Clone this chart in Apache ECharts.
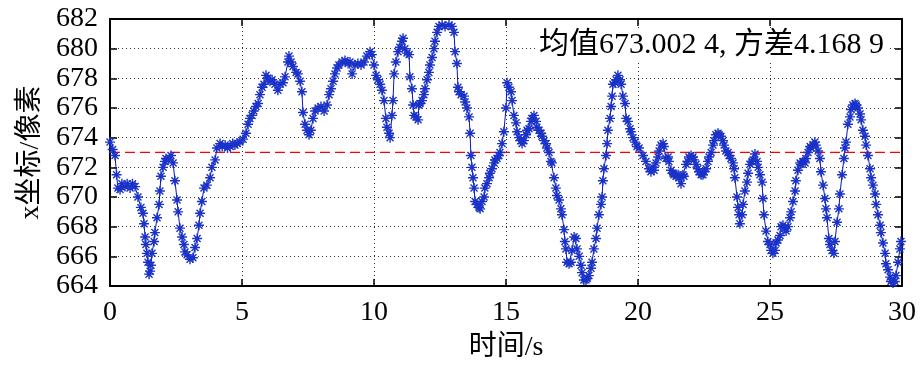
<!DOCTYPE html>
<html>
<head>
<meta charset="utf-8">
<script src="https://cdn.jsdelivr.net/npm/echarts@6/dist/echarts.min.js"></script>
<style>html,body{margin:0;padding:0;background:#fff;}#c{width:921px;height:371px;}</style>
</head>
<body>
<div id="c"></div>
<script>
const xTicks = [0, 5, 10, 15, 20, 25, 30];
const yTicks = [664, 666, 668, 670, 672, 674, 676, 678, 680, 682];
const meanValue = 673.0024;
const statText = '均值673.002 4, 方差4.168 9';
const xName = '时间/s';
const yName = 'x坐标/像素';

const times = [
0.00,0.10,0.19,0.25,0.30,0.38,0.45,0.57,0.65,0.76,0.85,0.95,1.06,1.17,1.25,1.29,1.33,1.36,1.40,1.44,1.48,1.52,1.55,1.59,1.67,1.70,1.78,1.86,1.89,1.93,2.01,2.08,2.12,2.20,2.31,2.39,2.46,2.54,2.58,2.65,2.73,2.80,2.84,2.92,3.03,3.14,3.22,3.30,3.37,3.41,3.48,3.56,3.67,3.79,3.86,3.98,4.05,4.17,4.25,4.36,4.45,4.55,4.65,4.73,4.82,4.92,5.04,
5.15,5.23,5.30,5.38,5.45,5.53,5.61,5.68,5.76,5.83,5.91,5.98,6.06,6.14,6.25,6.36,6.44,6.55,6.63,6.74,6.78,6.86,6.93,7.05,7.12,7.20,7.27,7.31,7.39,7.46,7.54,7.61,7.69,7.77,7.88,7.99,8.11,8.22,8.30,8.37,8.45,8.52,8.60,8.67,8.79,8.90,9.02,9.09,9.17,9.28,9.39,9.51,9.62,9.73,9.85,9.92,
10.00,10.08,10.15,10.23,10.30,10.38,10.45,10.49,10.57,10.61,10.68,10.72,10.76,10.83,10.91,10.98,11.06,11.10,11.17,11.25,11.33,11.36,11.44,11.48,11.52,11.59,11.67,11.70,11.74,11.82,11.89,11.93,12.01,12.08,12.12,12.20,12.27,12.31,12.39,12.46,12.58,12.69,12.84,12.95,13.03,13.07,13.14,13.18,13.22,13.30,13.41,13.45,13.52,13.60,13.64,13.67,13.71,13.75,13.79,13.83,13.90,13.98,14.02,14.09,14.17,14.20,14.28,14.36,14.39,14.47,14.55,14.58,14.66,14.73,14.77,14.85,14.92,
15.00,15.04,15.11,15.19,15.23,15.30,15.38,15.42,15.49,15.57,15.61,15.68,15.76,15.80,15.87,15.95,15.98,16.06,16.14,16.17,16.25,16.33,16.36,16.44,16.52,16.55,16.63,16.70,16.74,16.82,16.89,16.93,17.01,17.08,17.12,17.20,17.23,17.27,17.31,17.39,17.46,17.50,17.58,17.65,17.69,17.77,17.84,17.88,17.95,18.03,18.07,18.14,18.22,18.26,18.33,18.41,18.45,18.52,18.60,18.64,18.67,18.71,18.79,18.83,18.86,18.94,18.98,19.02,19.05,19.13,19.17,19.24,19.32,19.36,19.43,19.51,19.55,19.62,19.70,19.73,19.81,19.89,19.96,
20.04,20.19,20.30,20.42,20.49,20.57,20.61,20.68,20.76,20.80,20.87,20.95,20.98,21.06,21.14,21.17,21.25,21.33,21.36,21.44,21.52,21.55,21.63,21.70,21.74,21.82,21.89,21.93,22.01,22.08,22.12,22.20,22.27,22.31,22.39,22.46,22.50,22.58,22.65,22.69,22.77,22.84,22.88,22.95,23.03,23.07,23.14,23.22,23.26,23.33,23.41,23.45,23.52,23.60,23.64,23.67,23.75,23.79,23.83,23.86,23.94,23.98,24.05,24.13,24.17,24.24,24.32,24.36,24.43,24.51,24.55,24.62,24.70,24.73,24.77,24.85,24.92,25.00,
25.04,25.11,25.19,25.23,25.30,25.38,25.42,25.49,25.57,25.61,25.68,25.76,25.80,25.87,25.95,25.98,26.06,26.14,26.17,26.25,26.33,26.36,26.44,26.52,26.55,26.63,26.70,26.74,26.82,26.89,26.93,27.01,27.08,27.12,27.16,27.23,27.27,27.35,27.42,27.46,27.54,27.61,27.65,27.73,27.80,27.84,27.88,27.95,28.03,28.07,28.14,28.22,28.26,28.33,28.41,28.45,28.52,28.60,28.64,28.71,28.79,28.83,28.90,28.98,29.02,29.09,29.17,29.20,29.28,29.36,29.39,29.47,29.55,29.58,29.66,29.73,29.77,29.85,29.92,29.96
];

const values = [
673.7,673.2,672.8,671.5,670.6,670.5,670.9,670.7,670.9,670.6,670.9,670.7,670.0,669.3,668.9,668.2,667.3,666.8,666.2,665.6,664.8,665.0,665.4,666.2,667.0,667.6,668.6,669.5,670.4,671.4,672.0,672.4,672.6,672.5,672.8,672.3,671.1,669.8,669.0,667.9,667.3,666.8,666.3,666.1,665.8,665.9,666.6,667.2,668.1,668.9,669.7,670.6,670.8,671.3,672.0,672.5,673.3,673.6,673.4,673.5,673.3,673.4,673.6,673.5,673.6,673.7,673.9,
674.3,674.9,675.3,675.5,675.8,676.1,676.3,676.9,677.4,677.6,678.2,678.0,677.8,677.9,677.6,677.2,677.6,677.7,678.1,679.1,679.5,679.1,678.8,678.4,678.3,677.8,677.1,675.7,674.9,674.5,674.2,674.5,675.3,675.8,676.0,676.1,675.8,676.2,676.9,677.3,677.8,678.3,678.7,678.9,679.1,679.2,679.0,679.1,678.3,678.9,679.0,678.9,679.1,679.5,679.8,679.6,
678.9,678.2,677.9,677.6,677.2,676.5,675.3,674.7,674.3,674.0,675.5,676.5,678.3,679.1,679.8,680.1,680.5,680.7,680.0,679.7,679.6,678.1,677.3,676.2,675.5,675.4,675.2,676.2,676.3,676.5,676.9,677.3,677.9,678.4,678.9,679.4,680.0,680.5,681.1,681.5,681.6,681.5,681.6,681.5,681.1,679.8,679.0,677.4,677.1,676.9,676.8,676.4,676.0,675.4,674.3,672.8,672.0,671.3,670.6,669.7,669.5,669.3,669.2,669.7,670.0,670.6,670.9,671.3,671.6,671.9,672.3,672.5,672.6,672.8,673.0,673.6,674.4,
676.0,677.7,677.4,677.1,676.5,675.5,675.0,674.4,674.0,673.8,673.6,673.8,674.2,674.5,674.6,675.1,675.3,675.5,675.1,674.7,674.5,674.3,674.1,673.8,673.6,673.3,673.0,672.4,672.3,671.3,670.6,670.1,669.8,669.2,668.8,667.8,667.0,666.5,665.6,665.5,665.6,666.4,667.3,667.2,666.5,666.0,665.4,664.9,664.4,664.4,664.5,664.7,665.2,665.6,666.5,667.2,667.9,668.8,669.5,670.0,671.1,671.9,672.8,673.6,674.5,675.3,676.1,676.8,677.6,677.7,677.9,678.2,677.9,677.6,676.8,676.3,675.3,675.1,674.6,674.4,674.0,673.7,673.4,
673.3,672.8,672.4,671.9,671.7,672.0,671.8,672.3,672.7,673.1,673.5,673.6,673.4,672.6,672.7,672.4,671.8,671.6,671.5,671.4,671.5,671.3,670.9,671.5,671.4,672.2,672.4,672.7,672.8,672.7,672.5,672.2,671.9,671.7,671.5,671.5,671.7,671.9,672.4,672.7,673.0,673.5,673.8,674.2,674.3,674.2,674.1,673.8,673.5,673.1,673.0,672.8,672.6,672.3,671.9,671.3,670.0,669.3,668.8,668.2,668.8,669.5,670.4,671.0,671.6,672.2,672.4,672.5,672.9,672.4,672.0,671.5,671.0,669.9,668.8,667.7,667.0,666.8,
666.4,666.2,666.4,666.9,667.1,667.4,668.0,668.1,667.9,667.7,668.0,668.6,669.0,669.7,670.4,671.1,671.8,672.3,672.2,672.4,672.3,672.6,673.0,673.4,673.3,673.5,673.7,673.5,673.1,672.6,671.7,670.8,669.9,669.2,668.6,667.2,666.8,666.4,666.2,667.0,668.3,669.2,670.2,671.5,672.6,673.3,673.7,674.9,675.4,675.9,676.2,676.3,676.2,676.0,675.6,675.2,674.5,674.1,673.5,672.8,671.9,671.3,670.8,670.2,669.5,668.8,668.1,667.6,666.9,666.2,665.5,665.1,664.6,664.3,664.2,664.3,664.7,665.6,666.5,667.0
];

const serif = '"Liberation Serif", "Times New Roman", "Noto Sans CJK SC", serif';
const chart = echarts.init(document.getElementById('c'), null, {renderer: 'canvas'});
const seriesData = times.map((t, i) => [t, values[i]]);
const star = 'path://M5 0 L5 10 M0 5 L10 5 M1.5 1.5 L8.5 8.5 M1.5 8.5 L8.5 1.5';

const baseX = {
  type: 'value', min: xTicks[0], max: xTicks[xTicks.length - 1], interval: 5,
  axisLine: {show: true, onZero: false, lineStyle: {color: '#000', width: 2}},
  axisTick: {show: true, inside: true, length: 7, lineStyle: {color: '#000', width: 1.5}},
};
const baseY = {
  type: 'value', min: yTicks[0], max: yTicks[yTicks.length - 1], interval: 2,
  axisLine: {show: true, onZero: false, lineStyle: {color: '#000', width: 2}},
  axisTick: {show: true, inside: true, length: 7, lineStyle: {color: '#000', width: 1.5}},
};

chart.setOption({
  animation: false,
  backgroundColor: '#fff',
  grid: {left: 110, right: 19, top: 19, bottom: 85},
  xAxis: [
    Object.assign({}, baseX, {
      position: 'bottom',
      axisLabel: {color: '#000', fontSize: 28, fontFamily: serif, margin: 13},
      splitLine: {show: true, lineStyle: {color: '#333', width: 1, type: [1, 3]}},
      name: xName, nameLocation: 'middle', nameGap: 48,
      nameTextStyle: {color: '#000', fontSize: 28, fontFamily: serif}
    }),
    Object.assign({}, baseX, {
      position: 'top', axisLabel: {show: false}, splitLine: {show: false}
    })
  ],
  yAxis: [
    Object.assign({}, baseY, {
      position: 'left',
      axisLabel: {color: '#000', fontSize: 28, fontFamily: serif, margin: 12},
      splitLine: {show: true, lineStyle: {color: '#333', width: 1, type: [1, 3]}},
      name: yName, nameLocation: 'middle', nameGap: 64,
      nameTextStyle: {color: '#000', fontSize: 28, fontFamily: serif}
    }),
    Object.assign({}, baseY, {
      position: 'right', axisLabel: {show: false}, splitLine: {show: false}
    })
  ],
  series: [
    {
      type: 'line', xAxisIndex: 0, yAxisIndex: 0,
      data: [[xTicks[0], meanValue], [xTicks[xTicks.length - 1], meanValue]],
      symbol: 'none', silent: true, z: 3,
      lineStyle: {color: '#ff0000', width: 1.3, type: [10, 5]}
    },
    {
      type: 'line', xAxisIndex: 0, yAxisIndex: 0,
      data: seriesData,
      showSymbol: true, showAllSymbol: true,
      symbol: star, symbolSize: 10,
      lineStyle: {color: '#0a14c0', width: 1},
      itemStyle: {color: '#1a32c8', borderColor: '#1a32c8', borderWidth: 1.4},
      z: 4
    }
  ],
  graphic: [
    {
      type: 'text', right: 34, top: 29, z: 100,
      style: {
        text: statText,
        font: '30px ' + serif,
        fill: '#000',
        backgroundColor: '#fff',
        padding: [1, 3]
      }
    }
  ]
});
</script>
</body>
</html>
